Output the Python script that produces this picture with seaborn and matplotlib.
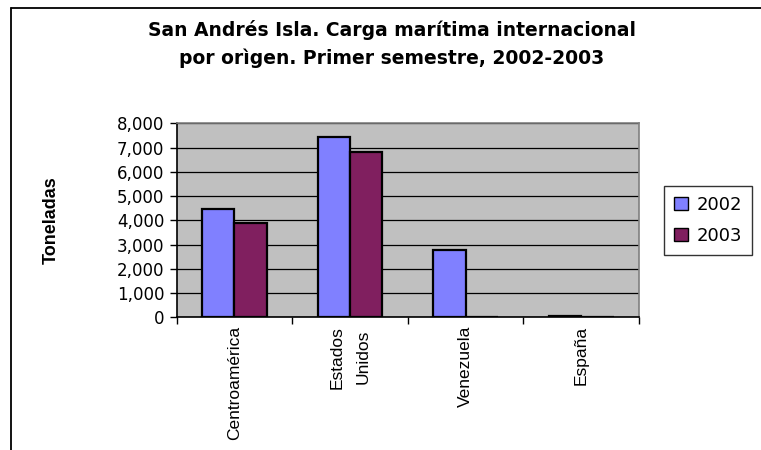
import matplotlib
matplotlib.use("Agg")
import matplotlib.pyplot as plt
import matplotlib.ticker as mticker
from matplotlib.lines import Line2D
import pandas as pd
import seaborn as sns

# data
origen = ["Centroamérica", "Estados\nUnidos", "Venezuela", "España"]
carga_2002 = [4480, 7450, 2780, 40]
carga_2003 = [3900, 6800, 0, 0]
years = ["2002", "2003"]

df = pd.DataFrame({
    "origen": origen * 2,
    "anio": [years[0]] * 4 + [years[1]] * 4,
    "ton": carga_2002 + carga_2003,
})

sns.set_style("white")
plt.rcParams["font.family"] = ["DejaVu Sans"]
plt.rcParams.update({"text.color": "black", "axes.labelcolor": "black",
                     "xtick.color": "black", "ytick.color": "black"})

fig = plt.figure(figsize=(7.61, 4.5), dpi=100)
ax = fig.add_axes([0.2322, 0.2949, 0.6075, 0.4311])
ax.set_facecolor("#C0C0C0")

sns.barplot(data=df, x="origen", y="ton", hue="anio", order=origen,
            palette=["#8080FF", "#801F5F"], saturation=1, width=0.56, dodge=True,
            edgecolor="black", linewidth=1.6, ax=ax, zorder=3)

ax.set_ylim(0, 8000)
ax.set_xlim(-0.5, 3.5)
ax.yaxis.set_major_locator(mticker.MultipleLocator(1000))
ax.yaxis.set_major_formatter(mticker.FuncFormatter(lambda v, p: f"{int(v):,}"))
ax.grid(axis="y", color="black", linewidth=0.9, zorder=1)
ax.set_axisbelow(True)
ax.tick_params(axis="y", left=True, length=5, width=1, labelsize=12, pad=4)

# category boundaries get the ticks, names sit in between
ax.set_xticks([-0.5, 0.5, 1.5, 2.5, 3.5])
ax.set_xticklabels([])
ax.tick_params(axis="x", which="major", bottom=True, length=5, width=1)
ax.set_xticks(range(4), minor=True)
ax.set_xticklabels(origen, minor=True, rotation=90, va="top", ha="center",
                   family="Liberation Sans", fontsize=12.5, linespacing=1.9)
ax.tick_params(axis="x", which="minor", length=0, pad=6)

for s in ["left", "bottom"]:
    ax.spines[s].set_color("black")
    ax.spines[s].set_linewidth(1.2)
for s in ["top", "right"]:
    ax.spines[s].set_color("#808080")
    ax.spines[s].set_linewidth(1.2)

ax.set_xlabel("")
ax.set_ylabel("Toneladas", fontsize=13, fontweight="bold", family="Liberation Sans")
ax.yaxis.set_label_coords(-0.252, 0.5)

leg = ax.legend(loc="center left", bbox_to_anchor=(1.055, 0.5), frameon=True,
                fancybox=False, edgecolor="black", fontsize=13,
                handlelength=0.75, handleheight=0.75, handletextpad=0.5,
                borderpad=0.55, labelspacing=0.7, borderaxespad=0, title=None)
leg.get_frame().set_linewidth(1)
for h in leg.legend_handles:
    h.set_linewidth(1)

fig.suptitle("San Andrés Isla. Carga marítima internacional\npor orìgen. Primer semestre, 2002-2003",
             x=0.515, y=0.955, fontsize=13.5, fontweight="bold", linespacing=1.55)

# outer chart frame (cut off at the right and bottom)
fig.add_artist(Line2D([11 / 761, 11 / 761], [0, 1 - 8 / 450], color="black", lw=1.3))
fig.add_artist(Line2D([11 / 761, 1], [1 - 8 / 450, 1 - 8 / 450], color="black", lw=1.3))

fig.savefig("out.png", dpi=100)
